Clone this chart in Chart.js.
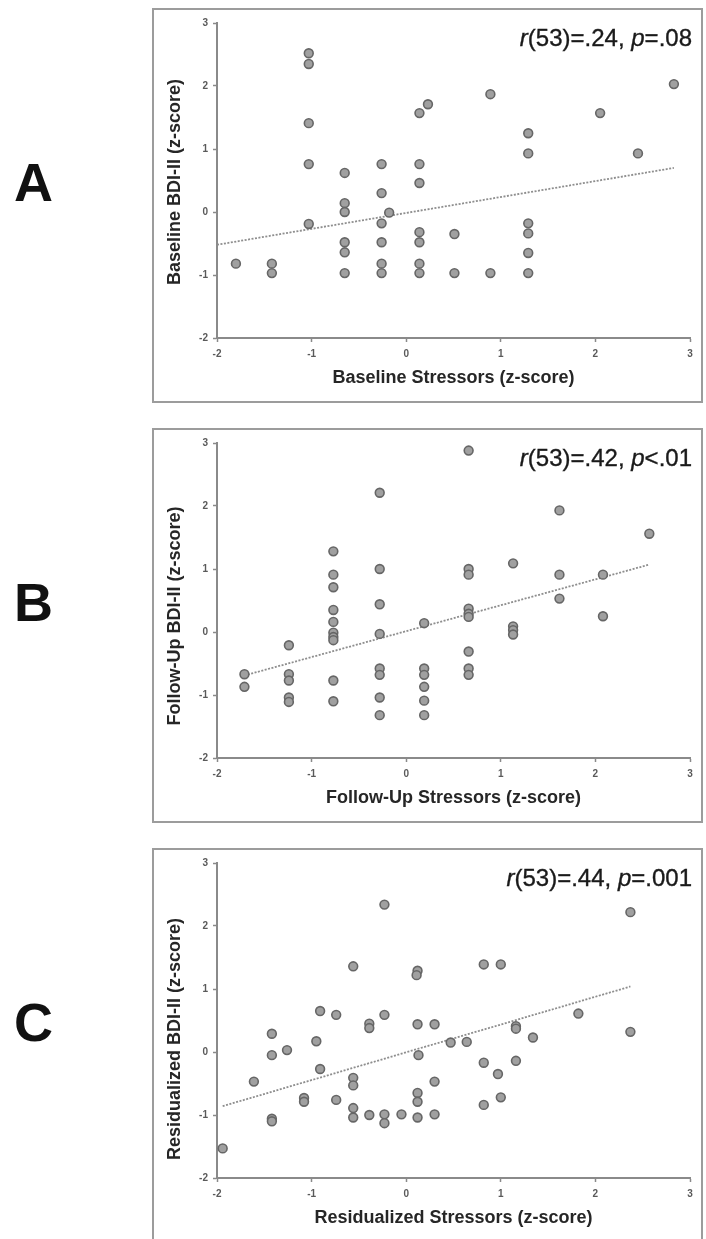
<!DOCTYPE html>
<html>
<head>
<meta charset="utf-8">
<script src="https://cdn.jsdelivr.net/npm/chart.js@4.4.1/dist/chart.umd.min.js"></script>
<style>
  body { margin:0; background:#fff; width:706px; height:1239px; position:relative; overflow:hidden;
         font-family:"Liberation Sans", Arial, sans-serif; }
  .panel { position:absolute; left:152px; width:551px; height:395px; }
  .panel canvas { position:absolute; left:0; top:0; }
  .frame { position:absolute; left:0; top:0; width:551px; height:395px; box-sizing:border-box;
           border:2px solid #9c9c9c; pointer-events:none; }
  .stat { position:absolute; right:11px; top:18px; font-size:24px; line-height:24px; color:#1a1a1a;
          white-space:nowrap; -webkit-text-stroke:0.35px #1a1a1a; }
  .ytitle { position:absolute; left:22px; font-size:18px; font-weight:bold; color:#262626; white-space:nowrap;
            transform:translate(-50%, -50%) rotate(-90deg); }
  .letter { position:absolute; left:14px; font-size:54px; line-height:54px; font-weight:bold; color:#111; }
</style>
</head>
<body>

<div class="letter" style="top:155px">A</div>
<div class="letter" style="top:575px">B</div>
<div class="letter" style="top:995px">C</div>

<div class="panel" style="top:8px">
  <canvas id="chart-a" width="551" height="395"></canvas>
  <div class="frame"></div>
  <div class="ytitle" id="ytitle-a" style="top:174px"></div>
  <div class="stat"><i>r</i>(53)=.24, <i>p</i>=.08</div>
</div>
<div class="panel" style="top:428px">
  <canvas id="chart-b" width="551" height="395"></canvas>
  <div class="frame"></div>
  <div class="ytitle" id="ytitle-b" style="top:188px"></div>
  <div class="stat"><i>r</i>(53)=.42, <i>p</i>&lt;.01</div>
</div>
<div class="panel" style="top:848px">
  <canvas id="chart-c" width="551" height="395"></canvas>
  <div class="frame"></div>
  <div class="ytitle" id="ytitle-c" style="top:191px"></div>
  <div class="stat"><i>r</i>(53)=.44, <i>p</i>=.001</div>
</div>

<script>
// tick labels (same on every panel)
const xTicks = [-2, -1, 0, 1, 2, 3];
const yTicks = [-2, -1, 0, 1, 2, 3];

// A - baseline
const aX = [-1.80, -1.42, -1.42,
  -1.03, -1.03, -1.03, -1.03, -1.03,
  -0.65, -0.65, -0.65, -0.65, -0.65, -0.65,
  -0.26, -0.26, -0.26, -0.26, -0.26, -0.26, -0.18,
  0.14, 0.23, 0.14, 0.14, 0.14, 0.14, 0.14, 0.14,
  0.51, 0.51, 0.89, 0.89,
  1.29, 1.29, 1.29, 1.29, 1.29, 1.29,
  2.05, 2.45, 2.83];
const aY = [-0.82, -0.82, -0.97,
  2.52, 2.35, 1.41, 0.76, -0.19,
  0.62, 0.14, 0.00, -0.48, -0.64, -0.97,
  0.76, 0.30, -0.18, -0.48, -0.82, -0.97, -0.01,
  1.57, 1.71, 0.76, 0.46, -0.32, -0.48, -0.82, -0.97,
  -0.35, -0.97, 1.87, -0.97,
  1.25, 0.93, -0.18, -0.34, -0.65, -0.97,
  1.57, 0.93, 2.03];
const aTrendX = [-2.0, 2.83];
const aTrendY = [-0.52, 0.70];

// B - follow-up
const bX = [-1.71, -1.71,
  -1.24, -1.24, -1.24, -1.24, -1.24,
  -0.77, -0.77, -0.77, -0.77, -0.77, -0.77, -0.77, -0.77, -0.77, -0.77,
  -0.28, -0.28, -0.28, -0.28, -0.28, -0.28, -0.28, -0.28,
  0.19, 0.19, 0.19, 0.19, 0.19, 0.19,
  0.66, 0.66, 0.66, 0.66, 0.66, 0.66, 0.66, 0.66, 0.66,
  1.13, 1.13, 1.13, 1.13,
  1.62, 1.62, 1.62,
  2.08, 2.08, 2.57];
const bY = [-0.67, -0.87,
  -0.21, -0.67, -0.77, -1.04, -1.11,
  1.28, 0.91, 0.71, 0.35, 0.16, -0.01, -0.08, -0.13, -0.77, -1.10,
  2.21, 1.00, 0.44, -0.03, -0.58, -0.68, -1.04, -1.32,
  0.14, -0.58, -0.68, -0.87, -1.09, -1.32,
  2.88, 1.00, 0.91, 0.37, 0.29, 0.24, -0.31, -0.58, -0.68,
  1.09, 0.09, 0.03, -0.04,
  1.93, 0.91, 0.53,
  0.91, 0.25, 1.56];
const bTrendX = [-1.71, 2.57];
const bTrendY = [-0.69, 1.07];

// C - residualized
const cX = [-1.94, -1.61, -1.42, -1.42, -1.42, -1.42, -1.26,
  -1.08, -1.08, -0.95, -0.91, -0.91, -0.74, -0.74,
  -0.56, -0.56, -0.56, -0.56, -0.56,
  -0.39, -0.39, -0.39,
  -0.23, -0.23, -0.23, -0.23, -0.05,
  0.12, 0.11, 0.12, 0.13, 0.12, 0.12, 0.12,
  0.30, 0.30, 0.30, 0.47, 0.64,
  0.82, 0.82, 0.82, 1.00, 0.97, 1.00,
  1.16, 1.16, 1.16, 1.34, 1.82, 2.37, 2.37];
const cY = [-1.53, -0.47, 0.29, -0.05, -1.06, -1.10, 0.03,
  -0.73, -0.79, 0.17, 0.65, -0.27, 0.59, -0.76,
  1.36, -0.41, -0.53, -0.89, -1.04,
  0.45, 0.38, -1.00,
  2.34, 0.59, -0.99, -1.13, -0.99,
  1.29, 1.22, 0.44, -0.05, -0.65, -0.79, -1.04,
  0.44, -0.47, -0.99, 0.15, 0.16,
  1.39, -0.17, -0.84, 1.39, -0.35, -0.72,
  0.41, 0.37, -0.14, 0.23, 0.61, 2.22, 0.32];
const cTrendX = [-1.94, 2.37];
const cTrendY = [-0.86, 1.04];

const xTitles = ['Baseline Stressors (z-score)', 'Follow-Up Stressors (z-score)', 'Residualized Stressors (z-score)'];
const yTitles = ['Baseline BDI-II (z-score)', 'Follow-Up BDI-II (z-score)', 'Residualized BDI-II (z-score)'];

const fontFamily = '"Liberation Sans", Arial, sans-serif';

function toPoints(xs, ys) {
  return xs.map((x, i) => ({ x: x, y: ys[i] }));
}

function axis(ticks, title, isX) {
  return {
    type: 'linear',
    position: isX ? 'bottom' : 'left',
    min: -2,
    max: 3,
    afterBuildTicks: (scale) => { scale.ticks = ticks.map(v => ({ value: v })); },
    afterFit: (scale) => {
      if (isX) scale.height = 65;
      else scale.width = 65;
    },
    border: { display: true, color: '#8a8a8a', width: 2 },
    grid: { drawOnChartArea: false, drawTicks: true, tickLength: 4, tickColor: '#8a8a8a', tickWidth: 1.5 },
    ticks: {
      padding: isX ? 6 : 5,
      color: '#5a5a5a',
      font: { family: fontFamily, size: 10, weight: 'bold' },
      callback: (v) => String(v)
    },
    // y titles are html text next to the canvas
    title: {
      display: isX,
      text: title,
      color: '#262626',
      font: { family: fontFamily, size: 18, weight: 'bold' },
      padding: { top: 0, bottom: 14 }
    }
  };
}

function makePanel(id, xs, ys, tx, ty, xTitle) {
  const ctx = document.getElementById(id).getContext('2d');
  return new Chart(ctx, {
    type: 'scatter',
    data: {
      datasets: [
        {
          data: toPoints(xs, ys),
          pointRadius: 4.4,
          pointBackgroundColor: '#a0a0a0',
          pointBorderColor: '#666',
          pointBorderWidth: 1.6
        },
        {
          type: 'line',
          data: toPoints(tx, ty),
          showLine: true,
          pointRadius: 0,
          borderColor: '#8e8e8e',
          borderWidth: 1.8,
          borderDash: [2, 1.5],
          fill: false
        }
      ]
    },
    options: {
      responsive: false,
      animation: false,
      devicePixelRatio: 1,
      layout: { padding: { top: 15, right: 13, left: 0, bottom: 0 } },
      plugins: { legend: { display: false }, tooltip: { enabled: false } },
      scales: {
        x: axis(xTicks, xTitle, true),
        y: axis(yTicks, '', false)
      }
    }
  });
}

document.getElementById('ytitle-a').textContent = yTitles[0];
document.getElementById('ytitle-b').textContent = yTitles[1];
document.getElementById('ytitle-c').textContent = yTitles[2];

makePanel('chart-a', aX, aY, aTrendX, aTrendY, xTitles[0]);
makePanel('chart-b', bX, bY, bTrendX, bTrendY, xTitles[1]);
makePanel('chart-c', cX, cY, cTrendX, cTrendY, xTitles[2]);
</script>
</body>
</html>
